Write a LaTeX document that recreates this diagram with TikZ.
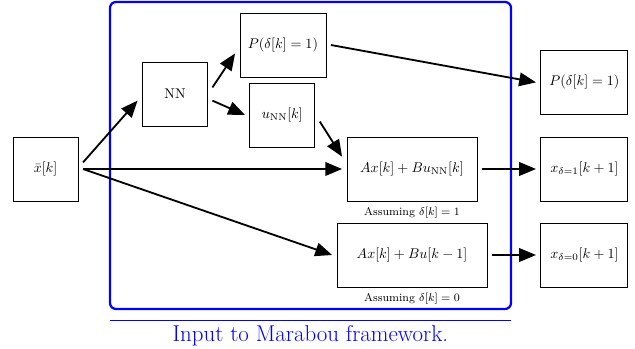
\documentclass[tikz,border=0pt]{standalone}
\usepackage{amsmath,amssymb}
\usetikzlibrary{arrows.meta, positioning}

\begin{document}
\begin{tikzpicture}[
    font=\normalsize,
    block/.style={
        draw=black,
        rectangle,
        minimum width=1.625cm,
        minimum height=1.6cm,
        inner sep=0pt,
        outer sep=3.5pt,
        line width=0.6pt
    },
    arrow/.style={
        -{Triangle[length=0.42cm,width=0.34cm]},
        line width=1.3pt,
        draw=black
    },
    frame/.style={
        draw=blue,
        line width=1.6pt,
        rounded corners=0.15cm
    },
    note/.style={
        font=\footnotesize,
        inner sep=1pt
    }
]

\useasboundingbox (0,0) rectangle (15.875,-8.725);

% ============================================================
% Marabou frame
% ============================================================

\draw[frame] (2.75,-0.05) rectangle (12.775,-7.725);
\draw[blue, line width=0.6pt] (2.75,-8.0) -- (12.775,-8.0);
\node[text=blue, font=\fontsize{16.3}{19}\selectfont] (caption) at (7.76,-8.38) {Input to Marabou framework.};

% ============================================================
% Blocks
% ============================================================

\node[block] (xbar) at (1.14,-4.225) {$\bar{x}[k]$};
\node[block] (nn)   at (4.375,-2.35) {NN};
\node[block, minimum width=2.15cm] (ptop) at (7.075,-1.125) {$P(\delta[k]=1)$};
\node[block] (unn)  at (7.06,-2.875) {$u_{\text{NN}}[k]$};

\node[block, minimum width=3.25cm] (axnn)   at (10.3,-4.225) {$Ax[k]+Bu_{\text{NN}}[k]$};
\node[block, minimum width=3.75cm] (axlast) at (10.3,-6.375) {$Ax[k]+Bu[k-1]$};

\node[note, below=-0.5pt of axnn]   (asm1) {Assuming $\delta[k]=1$};
\node[note, below=-0.5pt of axlast] (asm0) {Assuming $\delta[k]=0$};

\node[block, minimum width=2.175cm] (pright) at (14.61,-2.06)  {$P(\delta[k]=1)$};
\node[block, minimum width=2.175cm] (xone)   at (14.61,-4.225) {$x_{\delta=1}[k+1]$};
\node[block, minimum width=2.175cm] (xzero)  at (14.61,-6.375) {$x_{\delta=0}[k+1]$};

% ============================================================
% Connections
% ============================================================

\draw[arrow] (xbar.10)   -- (nn.-170);
\draw[arrow] (xbar.east) -- (axnn.west);
\draw[arrow] (xbar.east) -- (axlast.west);

\draw[arrow] (nn.10)  -- (ptop.190);
\draw[arrow] (nn.-10) -- (unn.west);

\draw[arrow] (ptop.east) -- (pright.west);
\draw[arrow] (unn.-10)   -- (axnn.170);

\draw[arrow] (axnn.east)   -- (xone.west);
\draw[arrow] (axlast.east) -- (xzero.west);

\end{tikzpicture}
\end{document}
